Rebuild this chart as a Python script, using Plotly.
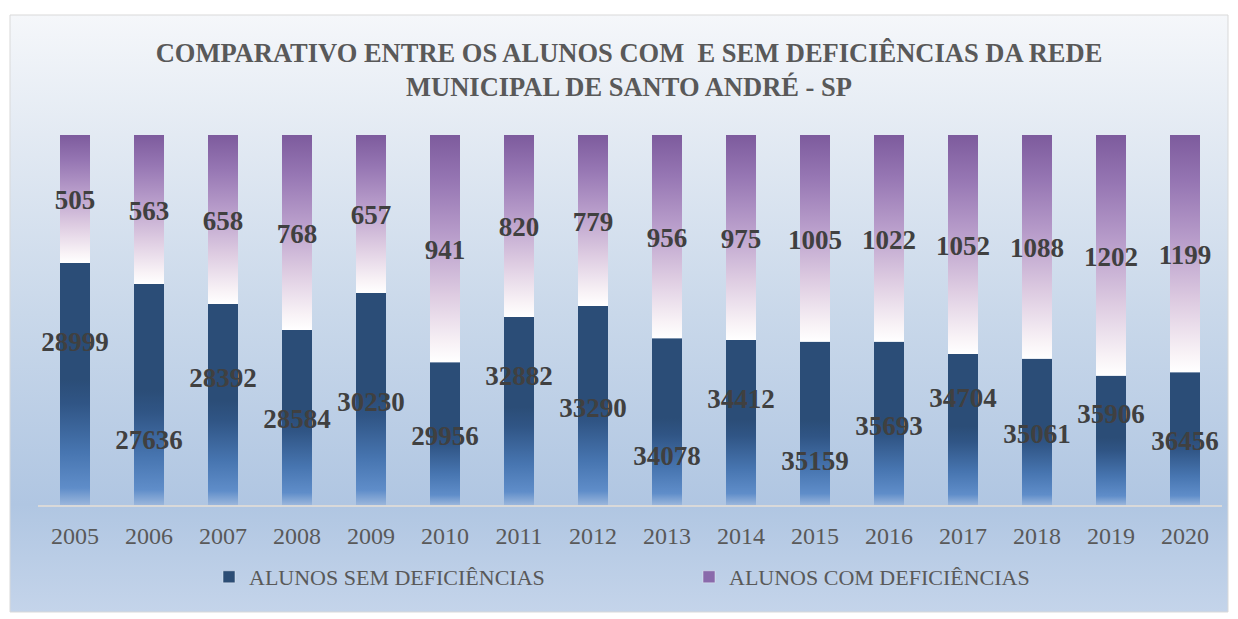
import base64
import plotly.graph_objects as go

# ---------------- data ----------------
years = ["2005", "2006", "2007", "2008", "2009", "2010", "2011", "2012",
         "2013", "2014", "2015", "2016", "2017", "2018", "2019", "2020"]
alunos_sem = [28999, 27636, 28392, 28584, 30230, 29956, 32882, 33290,
              34078, 34412, 35159, 35693, 34704, 35061, 35906, 36456]
alunos_com = [505, 563, 658, 768, 657, 941, 820, 779,
              956, 975, 1005, 1022, 1052, 1088, 1202, 1199]
# bar segment heights as drawn in the picture (percent of the full column)
sem_share = [65.4, 59.7, 54.3, 47.3, 57.3, 38.6, 50.8, 53.8,
             45.1, 44.6, 44.1, 44.1, 40.8, 39.5, 34.9, 35.9]
com_share = [34.6, 40.3, 45.7, 52.7, 42.7, 61.4, 49.2, 46.2,
             54.9, 55.4, 55.9, 55.9, 59.2, 60.5, 65.1, 64.1]
# label heights (percent units) of the blue-series labels as placed in the picture
sem_label_pos = [44.3, 17.8, 34.6, 23.5, 28.1, 18.9, 35.1, 26.5,
                 13.5, 28.9, 12.2, 21.6, 29.2, 19.5, 24.9, 17.6]

title_text = ("COMPARATIVO ENTRE OS ALUNOS COM \u00a0E SEM DEFICIÊNCIAS DA REDE"
              "<br>MUNICIPAL DE SANTO ANDRÉ - SP")
name_sem = "ALUNOS SEM DEFICIÊNCIAS"
name_com = "ALUNOS COM DEFICIÊNCIAS"

# ---------------- styles ----------------
W, H = 1238, 619
PL, PR, PT, PB = 38, 16, 135, 114
HALF = 0.2027
LABEL_DY = -0.9  # small downward nudge of label text (axis units)
blue_scale = [[0, "#9ab6dc"], [0.07, "#5f8dc9"], [0.22, "#4775b0"],
              [0.42, "#305585"], [0.52, "#2b4d77"], [1, "#2b4d77"]]
purple_scale = [[0, "#ffffff"], [0.08, "#f8f2f6"], [0.3, "#ddcbe1"],
                [0.55, "#b99ecb"], [0.8, "#9676b3"], [1, "#7d5b9d"]]
SERIF = "Liberation Serif, DejaVu Serif, serif"

fig = go.Figure()
n = len(years)
xs = list(range(n))

for i in xs:
    s = sem_share[i]
    c = com_share[i]
    fig.add_trace(go.Scatter(
        x=[i - HALF, i + HALF, i + HALF, i - HALF, i - HALF],
        y=[0, 0, s, s, 0], mode="lines", fill="toself",
        line=dict(width=0), fillgradient=dict(type="vertical", colorscale=blue_scale),
        showlegend=False, hoverinfo="skip"))
    fig.add_trace(go.Scatter(
        x=[i - HALF, i + HALF, i + HALF, i - HALF, i - HALF],
        y=[s, s, s + c, s + c, s], mode="lines", fill="toself",
        line=dict(width=0), fillgradient=dict(type="vertical", colorscale=purple_scale),
        showlegend=False, hoverinfo="skip"))

# labels
label_font = dict(family=SERIF, size=27, color="#404040", weight="bold")
fig.add_trace(go.Scatter(
    x=xs, y=[sem_share[i] + com_share[i] / 2 + LABEL_DY for i in xs], mode="text",
    text=[str(v) for v in alunos_com], textposition="middle center",
    textfont=label_font, showlegend=False, hoverinfo="skip"))
fig.add_trace(go.Scatter(
    x=xs, y=[p + LABEL_DY for p in sem_label_pos], mode="text",
    text=[str(v) for v in alunos_sem], textposition="middle center",
    textfont=label_font, showlegend=False, hoverinfo="skip"))

# legend entries
fig.add_trace(go.Bar(x=[None], y=[None], name=name_sem, marker_color="#2c4d75"))
fig.add_trace(go.Bar(x=[None], y=[None], name=name_com, marker_color="#8a6aab"))

# background gradient as an svg image
svg = ('<svg xmlns="http://www.w3.org/2000/svg" width="100" height="100" preserveAspectRatio="none">'
       '<defs><linearGradient id="g" x1="0" y1="0" x2="0" y2="1">'
       '<stop offset="0" stop-color="#f5f7fa"/>'
       '<stop offset="0.2" stop-color="#e3eaf3"/>'
       '<stop offset="0.5" stop-color="#c9d8ea"/>'
       '<stop offset="0.82" stop-color="#b0c6e2"/>'
       '<stop offset="1" stop-color="#c4d4ea"/>'
       '</linearGradient></defs><rect width="100" height="100" fill="url(#g)"/></svg>')
src = "data:image/svg+xml;base64," + base64.b64encode(svg.encode()).decode()

pw, ph = W - PL - PR, H - PT - PB
bx0, bx1, by0, by1 = 10, 1228, 15, 612
px0 = (bx0 - PL) / pw
px1 = (bx1 - PL) / pw
py_top = (H - PB - by0) / ph
py_bot = (H - PB - by1) / ph

fig.update_layout(
    width=W, height=H,
    margin=dict(l=PL, r=PR, t=PT, b=PB, autoexpand=False),
    paper_bgcolor="white", plot_bgcolor="rgba(0,0,0,0)",
    images=[dict(source=src, xref="paper", yref="paper", x=px0, y=py_top,
                 sizex=px1 - px0, sizey=py_top - py_bot, sizing="stretch",
                 xanchor="left", yanchor="top", layer="below")],
    shapes=[dict(type="rect", xref="paper", yref="paper", x0=px0, x1=px1,
                 y0=py_bot, y1=py_top, line=dict(color="#d9d9d9", width=1),
                 fillcolor="rgba(0,0,0,0)", layer="below")],
    title=dict(text=title_text, x=629 / W, xanchor="center", xref="container",
               y=1 - 62 / H, yanchor="middle", yref="container",
               font=dict(family=SERIF, size=26.5, color="#595959", weight="bold")),
    xaxis=dict(range=[-0.5, n - 0.5], tickvals=xs, ticktext=years,
               showgrid=False, zeroline=False, showline=True,
               linecolor="#d9d9d9", linewidth=2, ticks="",
               ticklabelstandoff=8,
               tickfont=dict(family=SERIF, size=24, color="#595959"),
               fixedrange=True),
    yaxis=dict(range=[0, 100], visible=False, showgrid=False, zeroline=False,
               fixedrange=True),
    legend=dict(orientation="h", xref="container", yref="container",
                x=209 / W, xanchor="left", y=1 - 577 / H, yanchor="middle",
                entrywidth=435, entrywidthmode="pixels",
                bgcolor="rgba(0,0,0,0)",
                font=dict(family=SERIF, size=22, color="#595959")),
    showlegend=True,
)

fig.write_html("out.html")
